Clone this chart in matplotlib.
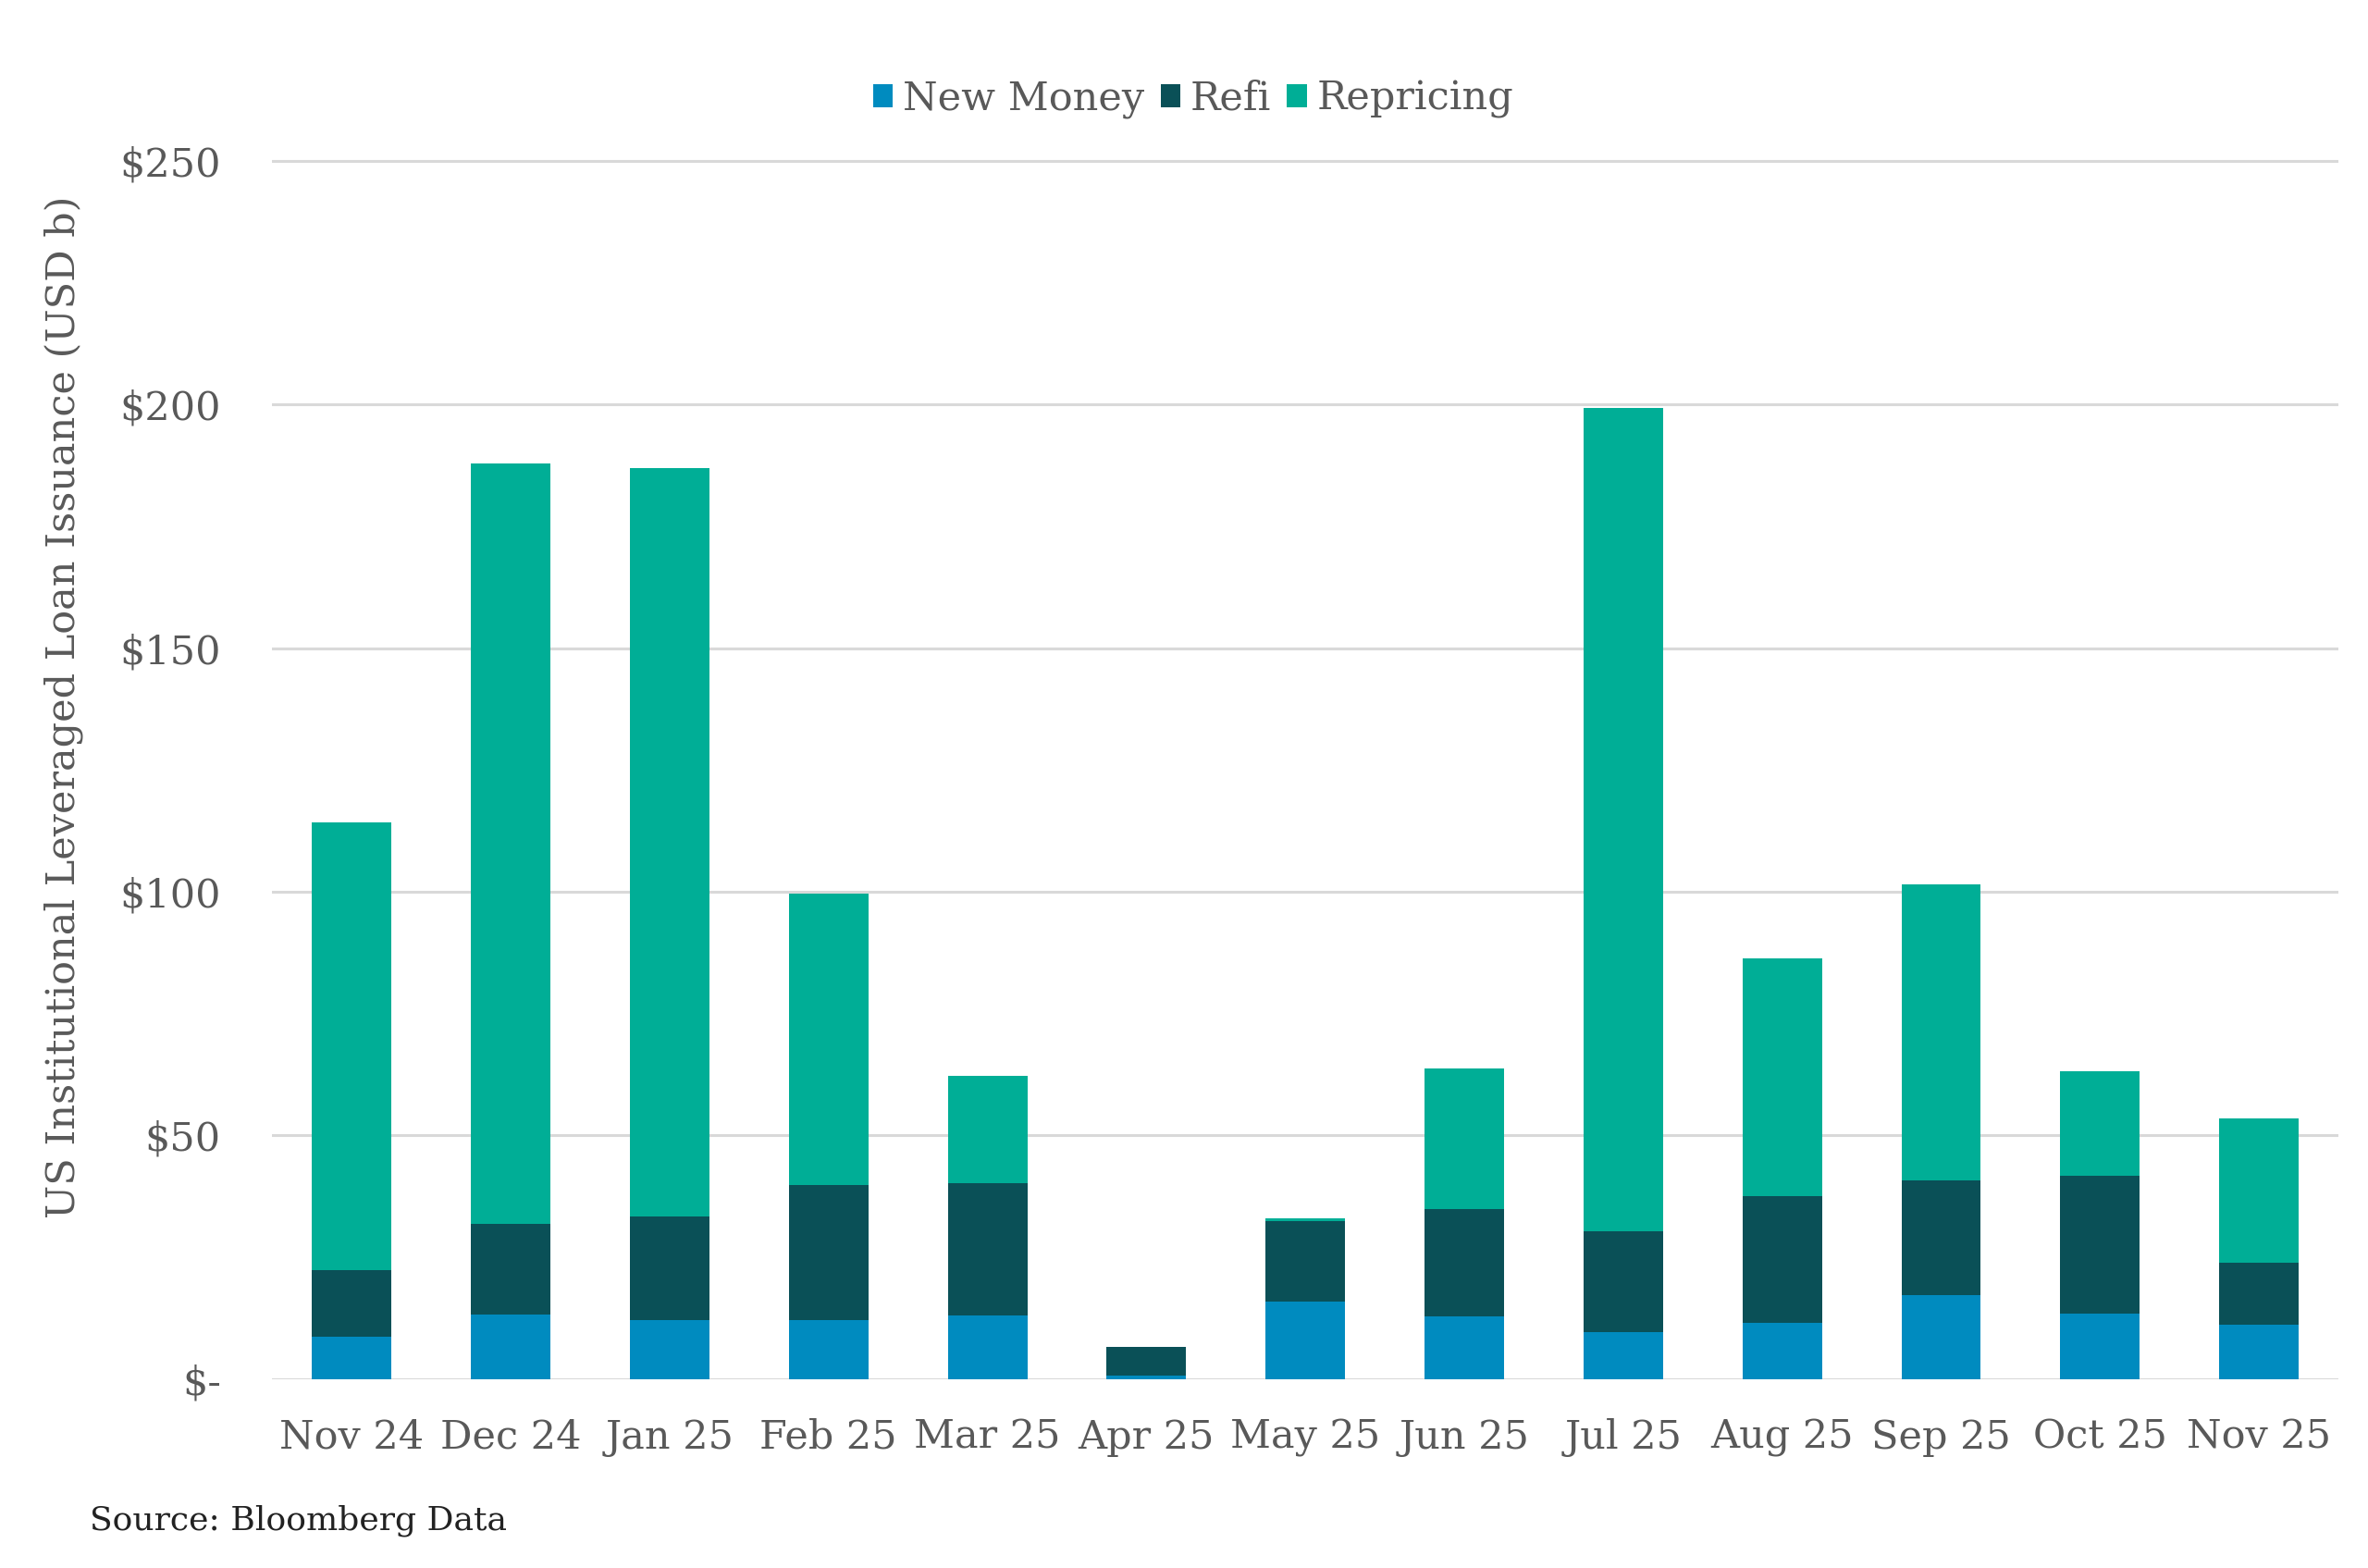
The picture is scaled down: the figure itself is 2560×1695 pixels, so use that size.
import numpy as np
import matplotlib
matplotlib.use("Agg")
import matplotlib.pyplot as plt

months = ["Nov 24", "Dec 24", "Jan 25", "Feb 25", "Mar 25", "Apr 25", "May 25",
          "Jun 25", "Jul 25", "Aug 25", "Sep 25", "Oct 25", "Nov 25"]
new_money = [8.7, 13.3, 12.1, 12.1, 13.0, 0.7, 16.0, 12.8, 9.7, 11.6, 17.3, 13.4, 11.2]
refi = [13.6, 18.6, 21.3, 27.8, 27.2, 6.0, 16.5, 22.2, 20.7, 25.9, 23.5, 28.3, 12.7]
repricing = [91.9, 155.9, 153.5, 59.7, 22.0, 0.0, 0.6, 28.7, 168.9, 48.8, 60.7, 21.4, 29.6]

c_new = "#008bbf"
c_refi = "#0a5057"
c_rep = "#00ae96"
txt = "#595959"

plt.rcParams["font.family"] = ["DejaVu Serif"]

fig = plt.figure(figsize=(25.6, 16.95), dpi=100)
ax = fig.add_axes([0.115, 0.1204, 0.8725, 0.7784])

x = np.arange(len(months))
nm = np.array(new_money)
rf = np.array(refi)
rp = np.array(repricing)
w = 0.5
ax.bar(x, nm, w, color=c_new, label="New Money", zorder=3)
ax.bar(x, rf, w, bottom=nm, color=c_refi, label="Refi", zorder=3)
ax.bar(x, rp, w, bottom=nm + rf, color=c_rep, label="Repricing", zorder=3)

ax.set_xlim(-0.5, len(months) - 0.5)
ax.set_ylim(0, 250.4)
ax.set_yticks([0, 50, 100, 150, 200, 250])
ax.set_yticklabels(["$-", "$50", "$100", "$150", "$200", "$250"])
ax.set_xticks(x)
ax.set_xticklabels(months)
ax.tick_params(axis="both", length=0, labelsize=31, colors=txt)
ax.tick_params(axis="x", pad=30)
ax.tick_params(axis="y", pad=40)
ax.grid(axis="y", color="#d9d9d9", linewidth=2.2, zorder=0)
for s in ax.spines.values():
    s.set_visible(False)

fig.text(0.027, 0.549, "US Institutional Leveraged Loan Issuance (USD b)", rotation=90,
         ha="center", va="center", fontsize=31, color=txt)

leg = fig.legend(loc="center", bbox_to_anchor=(0.504, 0.937), ncol=3, frameon=False,
                 fontsize=31, handlelength=0.5, handleheight=0.5, handletextpad=0.25,
                 columnspacing=0.4, labelcolor=txt)

fig.text(0.038, 0.03, "Source: Bloomberg Data", fontsize=26, color="#222222",
         ha="left", va="center")

fig.savefig("out.png", dpi=100, facecolor="white")
